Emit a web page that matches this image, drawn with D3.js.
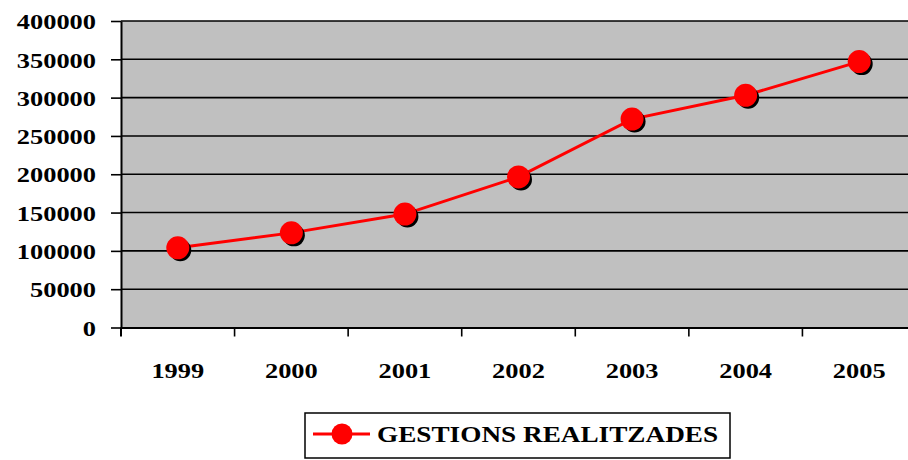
<!DOCTYPE html>
<html><head><meta charset="utf-8">
<script src="https://cdn.jsdelivr.net/npm/d3@7"></script>
<style>body{margin:0;background:#fff}svg{display:block}text{font-family:"Liberation Serif","Times New Roman",serif;font-weight:bold;fill:#000}</style>
</head><body><svg id="c" width="908" height="460"></svg>
<script>
const years = ["1999","2000","2001","2002","2003","2004","2005"];
const values = [104000, 123500, 148000, 196500, 272000, 303000, 347000];
const yTicks = [0,50000,100000,150000,200000,250000,300000,350000,400000];
const seriesName = "GESTIONS REALITZADES";

const svg = d3.select("#c");
const L=121, R=916, T=21, B=327.5;
const x = d3.scaleBand().domain(years).range([L,R]).padding(0);
const y = d3.scaleLinear().domain([0,400000]).range([B,T]);
const sx = 1.2;

svg.append("rect").attr("x",L).attr("y",T).attr("width",R-L).attr("height",B-T).attr("fill","#C0C0C0");
// gridlines
svg.selectAll(".g").data(yTicks.slice(1)).enter().append("line")
  .attr("x1",L).attr("x2",R).attr("y1",d=>y(d)).attr("y2",d=>y(d))
  .attr("stroke","#000").attr("stroke-width",1.6);
// y axis
const ya = svg.append("g").attr("transform",`translate(${L},0)`)
  .call(d3.axisLeft(y).tickValues(yTicks).tickSize(10).tickSizeOuter(0).tickFormat(d3.format("d")));
ya.select(".domain").attr("stroke","#000").attr("stroke-width",2);
ya.selectAll(".tick line").attr("stroke","#000").attr("stroke-width",1.6);
ya.selectAll(".tick text").each(function(){
  const t=d3.select(this); t.attr("x",null).attr("dy",null);
  t.attr("text-anchor","end").attr("dominant-baseline","central").attr("font-size",22)
   .attr("transform",`translate(-25,0) scale(${sx},1)`);
});
// x axis
const xa = svg.append("g").attr("transform",`translate(0,${B})`)
  .call(d3.axisBottom(x).tickSize(0).tickSizeOuter(0));
xa.select(".domain").attr("stroke","#000").attr("stroke-width",2);
xa.selectAll(".tick text").each(function(){
  const t=d3.select(this); t.attr("y",null).attr("dy",null);
  t.attr("text-anchor","middle").attr("font-size",22)
   .attr("transform",`translate(0,50.5) scale(${sx},1)`);
});
// x tick marks at band boundaries
svg.selectAll(".xt").data(years.slice(1)).enter().append("line")
  .attr("x1",d=>x(d)).attr("x2",d=>x(d)).attr("y1",B).attr("y2",B+9)
  .attr("stroke","#000").attr("stroke-width",1.6);
svg.append("line").attr("x1",L).attr("x2",L).attr("y1",B).attr("y2",B+9).attr("stroke","#000").attr("stroke-width",2);

const cx = d=>x(d)+x.bandwidth()/2;
const pts = years.map((d,i)=>({yr:d,v:values[i]}));
svg.append("path").datum(pts)
  .attr("d",d3.line().x(d=>cx(d.yr)).y(d=>y(d.v)))
  .attr("fill","none").attr("stroke","#FF0000").attr("stroke-width",3);
svg.selectAll(".sh").data(pts).enter().append("circle")
  .attr("cx",d=>cx(d.yr)+2.5).attr("cy",d=>y(d.v)+2.5).attr("r",11).attr("fill","#000");
svg.selectAll(".mk").data(pts).enter().append("circle")
  .attr("cx",d=>cx(d.yr)).attr("cy",d=>y(d.v)).attr("r",11.5).attr("fill","#FF0000");

// legend
const lg = svg.append("g");
lg.append("rect").attr("x",305).attr("y",413).attr("width",425).attr("height",45)
  .attr("fill","#fff").attr("stroke","#000").attr("stroke-width",1.5);
lg.append("line").attr("x1",313).attr("x2",370).attr("y1",434).attr("y2",434).attr("stroke","#FF0000").attr("stroke-width",3);
lg.append("circle").attr("cx",342).attr("cy",434).attr("r",10.5).attr("fill","#FF0000");
lg.append("text").attr("transform",`translate(377,442) scale(1.21,1)`).attr("font-size",22.5).text(seriesName);
</script></body></html>
